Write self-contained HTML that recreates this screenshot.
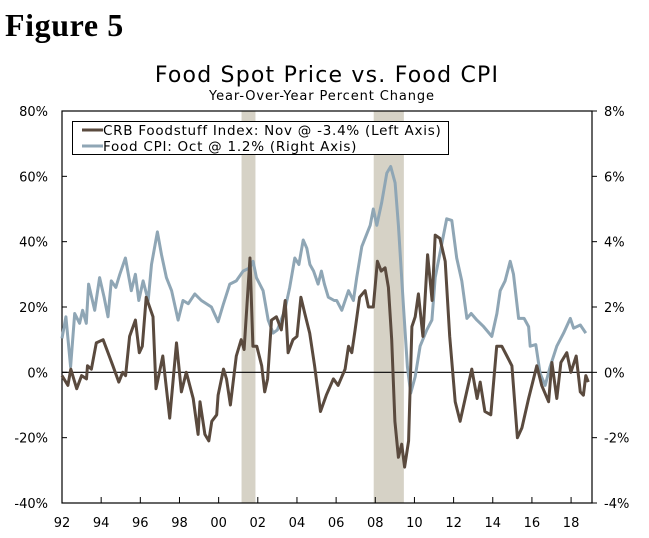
<!DOCTYPE html>
<html><head><meta charset="utf-8"><style>
body{margin:0;background:#fff;width:649px;height:533px;overflow:hidden}
svg text{font-family:"DejaVu Sans","Liberation Sans",sans-serif}
</style></head><body>
<svg id="chart" width="649" height="533">
<text x="5" y="36" style="font-family:'Liberation Serif',serif;font-weight:bold;font-size:32px;letter-spacing:0.6px">Figure 5</text>
<text x="327" y="82" text-anchor="middle" font-size="22" letter-spacing="1.2">Food Spot Price vs. Food CPI</text>
<text x="322" y="100" text-anchor="middle" font-size="13" letter-spacing="0.9">Year-Over-Year Percent Change</text>
<g id="rec"></g><g id="axes"></g><g id="lines"></g>
<g>
<rect x="72.5" y="121.5" width="376" height="33" fill="#fff" stroke="#000"/>
<line x1="82" y1="130" x2="103" y2="130" stroke="#5a4a3e" stroke-width="3"/>
<text x="103" y="135" font-size="13.5" letter-spacing="0.75">CRB Foodstuff Index: Nov @ -3.4% (Left Axis)</text>
<line x1="82" y1="146" x2="103" y2="146" stroke="#8fa6b5" stroke-width="3"/>
<text x="103" y="151" font-size="13.5" letter-spacing="0.75">Food CPI: Oct @ 1.2% (Right Axis)</text>
</g>
</svg>
<script>
const recessions=[[2001.17,2001.88],[2007.92,2009.46]];
const leftTicks=["-40%","-20%","0%","20%","40%","60%","80%"];
const leftVals=[-40,-20,0,20,40,60,80];
const rightTicks=["-4%","-2%","0%","2%","4%","6%","8%"];
const xLabels=["92","94","96","98","00","02","04","06","08","10","12","14","16","18"];
const xYears=[1992,1994,1996,1998,2000,2002,2004,2006,2008,2010,2012,2014,2016,2018];
const crbDates=[92.0,92.3,92.45,92.75,93.0,93.25,93.3,93.5,93.75,94.1,94.35,94.6,94.9,95.1,95.25,95.45,95.75,95.95,96.1,96.3,96.65,96.8,97.15,97.5,97.85,98.1,98.35,98.7,98.95,99.05,99.3,99.5,99.65,99.9,99.97,100.25,100.4,100.6,100.9,101.15,101.3,101.6,101.75,101.95,102.2,102.35,102.5,102.7,102.95,103.2,103.4,103.55,103.8,104.0,104.2,104.4,104.65,104.9,105.2,105.5,105.86,106.1,106.46,106.63,106.8,106.97,107.2,107.48,107.65,107.9,108.11,108.3,108.5,108.67,108.84,109.0,109.18,109.35,109.5,109.7,109.87,110.04,110.2,110.43,110.67,110.9,111.06,111.3,111.57,111.8,112.08,112.33,112.59,112.93,113.2,113.36,113.6,113.9,114.2,114.46,114.72,114.98,115.26,115.49,115.83,116.25,116.5,116.85,117.02,117.27,117.48,117.78,117.99,118.26,118.47,118.63,118.75,118.88];
const crbVals=[-1,-4,1,-5,-1,-2,2,1,9,10,6,2,-3,0,-1,11,16,6,8,23,17,-5,5,-14,9,-6,0,-8,-19,-9,-19,-21,-15,-13,-7,1,-2,-10,5,10,7,35,8,8,2,-6,-2,16,17,13,22,6,10,11,23,18,12,2,-12,-7,-2,-4,1,8,6,13,23,25,20,20,34,31,32,26,10,-15,-26,-22,-29,-21,14,17,24,11,36,22,42,41,34,11,-9,-15,-8,1,-8,-3,-12,-13,8,8,5,2,-20,-17,-8,2,-4,-9,3,-8,3,6,0,5,-6,-7,-1,-3];
const cpiDates=[92.0,92.2,92.44,92.65,92.9,93.05,93.24,93.36,93.67,93.92,94.15,94.35,94.52,94.75,94.95,95.24,95.54,95.75,95.92,96.14,96.4,96.57,96.87,97.08,97.33,97.6,97.93,98.18,98.45,98.78,99.12,99.63,99.97,100.23,100.57,100.9,101.25,101.59,101.76,101.93,102.27,102.53,102.78,103.0,103.38,103.63,103.89,104.1,104.32,104.5,104.66,104.85,105.08,105.25,105.4,105.6,105.9,106.03,106.29,106.63,106.88,107.05,107.31,107.74,107.9,108.08,108.33,108.59,108.79,109.01,109.18,109.44,109.64,109.81,110.04,110.29,110.63,110.89,111.06,111.4,111.65,111.91,112.16,112.42,112.68,112.9,113.19,113.53,113.95,114.21,114.38,114.63,114.89,115.06,115.32,115.6,115.83,115.91,116.2,116.42,116.68,116.93,117.27,117.62,117.96,118.13,118.47,118.75];
const cpiVals=[1.04,1.7,0.17,1.8,1.5,1.9,1.5,2.7,1.9,2.9,2.3,1.7,2.8,2.6,3.0,3.5,2.5,3.0,2.2,2.8,2.2,3.3,4.3,3.6,2.9,2.5,1.6,2.2,2.1,2.4,2.2,2.0,1.55,2.06,2.7,2.8,3.1,3.2,3.4,2.9,2.5,1.6,1.2,1.3,1.9,2.6,3.5,3.3,4.05,3.8,3.3,3.1,2.7,3.1,2.7,2.3,2.2,2.2,1.9,2.5,2.2,2.9,3.85,4.5,5.0,4.5,5.2,6.1,6.3,5.8,4.5,2.0,0.17,-0.64,-0.13,0.8,1.3,1.6,2.9,3.95,4.7,4.65,3.5,2.8,1.65,1.8,1.6,1.4,1.1,1.8,2.5,2.8,3.4,3.0,1.65,1.65,1.4,0.8,0.85,-0.03,-0.4,0.17,0.8,1.2,1.65,1.35,1.45,1.2];
const L=62,R=592,T=111,B=503,Y0=1992,PXY=19.58;
const X=y=>L+(y-Y0)*PXY;
const YL=v=>B-(v+40)/120*(B-T);
const YR=v=>YL(v*10);
const NS="http://www.w3.org/2000/svg";
function mk(tag,parent,attrs){const e=document.createElementNS(NS,tag);for(const k in attrs)e.setAttribute(k,attrs[k]);document.getElementById(parent).appendChild(e);return e;}
recessions.forEach((r,i)=>{
const e=mk('rect','rec',{x:X(r[0]),y:T,width:X(r[1])-X(r[0]),height:B-T,fill:'#d6d2c6'});


});
let a;
a=mk('rect','axes',{x:L,y:T,width:R-L,height:B-T,fill:'none',stroke:'#000','stroke-width':1.2});


a=mk('line','axes',{x1:L,x2:R,y1:YL(0),y2:YL(0),stroke:'#000','stroke-width':1.2});


leftVals.forEach((v,i)=>{
const y=YL(v);
mk('line','axes',{x1:L,x2:L+5,y1:y,y2:y,stroke:'#000'});
mk('line','axes',{x1:R,x2:R+5,y1:y,y2:y,stroke:'#000'});
const t=mk('text','axes',{x:48,y:y+5,'text-anchor':'end','font-size':13});
t.textContent=leftTicks[i];


const t2=mk('text','axes',{x:604,y:y+5,'font-size':13});
t2.textContent=rightTicks[i];


});
xYears.forEach((yr,i)=>{
const x=X(yr);
mk('line','axes',{x1:x,x2:x,y1:B,y2:B-6,stroke:'#000'});
const t=mk('text','axes',{x:x,y:527,'text-anchor':'middle','font-size':13});
t.textContent=xLabels[i];


});
function line(d,v,sc,col,name){
const pts=d.map((t,i)=>X(1900+t).toFixed(1)+','+sc(v[i]).toFixed(1)).join(' ');
const p=mk('polyline','lines',{points:pts,fill:'none',stroke:col,'stroke-width':3,'stroke-linejoin':'round'});


}
line(cpiDates,cpiVals,YR,'#8fa6b5','food-cpi-line');
line(crbDates,crbVals,YL,'#5a4a3e','crb-foodstuff-line');
</script>
</body></html>
